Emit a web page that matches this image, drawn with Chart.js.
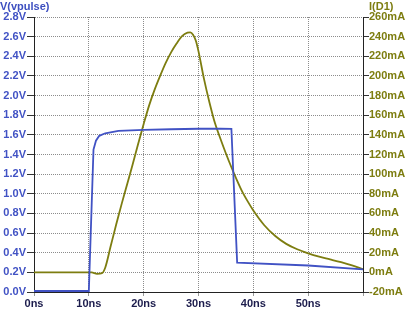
<!DOCTYPE html>
<html>
<head>
<meta charset="utf-8">
<script src="https://cdn.jsdelivr.net/npm/chart.js@4/dist/chart.umd.min.js"></script>
<style>
  html, body { margin: 0; padding: 0; background: #fff; }
  #wrap { position: relative; width: 407px; height: 309px; }
  .ttl { position: absolute; top: 0; font: bold 11px 'Liberation Sans', Arial, sans-serif; line-height: 13px; }
  #tl { left: 0; color: #3d4fc0; }
  #tr { left: 369px; color: #7d7d10; }
</style>
</head>
<body>
<div id="wrap">
  <canvas id="c" width="407" height="309"></canvas>
  <div class="ttl" id="tl">V(vpulse)</div>
  <div class="ttl" id="tr">I(D1)</div>
</div>
<script>
// V(vpulse): time (ns) / volts
var vTime = [0, 10.0, 10.85, 11.3, 11.9, 13, 15.4, 20, 25, 30, 34, 36.0, 37.05, 50, 60];
var vVolt = [0.01, 0.01, 1.45, 1.54, 1.59, 1.616, 1.64, 1.65, 1.657, 1.662, 1.662, 1.66, 0.30, 0.27, 0.23];

// I(D1): time (ns) / mA
var iTime = [0, 10.5, 11.5, 12.4, 13, 14, 15, 16, 17, 18, 19, 20, 21, 22, 23, 24, 25, 26, 27, 28, 28.5, 29, 29.5, 30,
             31, 32, 33, 34, 35, 36, 37, 38, 39, 40, 42, 44, 46, 48, 50, 52, 54, 56, 58, 60];
var iMa = [0, 0, -1.5, -0.8, 5, 27, 49, 70, 90, 110, 131, 151, 170, 186, 200, 213, 224, 233, 240.5, 244, 244.3, 242, 236, 225,
           197, 173, 152, 136, 121, 107, 94, 82, 72, 63, 48, 37, 29, 23.5, 19.4, 16, 13.2, 10.3, 7, 3.2];

var blue = '#4152c4';
var olive = '#7d7d10';

function pts(xs, ys) {
  return xs.map(function (x, i) { return { x: x, y: ys[i] }; });
}

Chart.defaults.font.family = "'Liberation Sans', Arial, sans-serif";
Chart.defaults.font.size = 11;
Chart.defaults.font.weight = 'bold';

new Chart(document.getElementById('c'), {
  type: 'line',
  data: {
    datasets: [
      { label: 'V(vpulse)', data: pts(vTime, vVolt), yAxisID: 'yV', borderColor: blue, borderWidth: 1.8,
        pointRadius: 0, tension: 0 },
      { label: 'I(D1)', data: pts(iTime, iMa), yAxisID: 'yI', borderColor: olive, borderWidth: 1.8,
        pointRadius: 0, cubicInterpolationMode: 'monotone' }
    ]
  },
  options: {
    responsive: false, animation: false, devicePixelRatio: 1,
    layout: { padding: { top: 17, left: 0, right: 0, bottom: 0 } },
    plugins: { legend: { display: false }, tooltip: { enabled: false } },
    scales: {
      x: {
        type: 'linear', min: 0, max: 60,
        afterFit: function (s) { s.height = 17; },
        ticks: { stepSize: 10, padding: 1, color: '#1c1c4c', maxRotation: 0,
                 callback: function (v) { return v === 60 ? '' : v + 'ns'; } },
        grid: { color: '#8c8c8c', tickLength: 4, tickColor: '#999' },
        border: { color: '#222', width: 1, dash: [1, 1] }
      },
      yV: {
        position: 'left', min: 0, max: 2.8,
        afterFit: function (s) { s.width = 34; },
        ticks: { stepSize: 0.2, padding: 1, color: blue,
                 callback: function (v) { return v.toFixed(1) + 'V'; } },
        grid: { color: '#8c8c8c', tickLength: 7, tickColor: '#333' },
        border: { color: '#222', width: 1, dash: [1, 1] }
      },
      yI: {
        position: 'right', min: -20, max: 260,
        afterFit: function (s) { s.width = 44; },
        ticks: { stepSize: 20, padding: 0, color: olive,
                 callback: function (v) { return v + 'mA'; } },
        grid: { drawOnChartArea: false, tickLength: 6, tickColor: '#333' },
        border: { color: '#222', width: 1 }
      }
    }
  }
});
</script>
</body>
</html>
